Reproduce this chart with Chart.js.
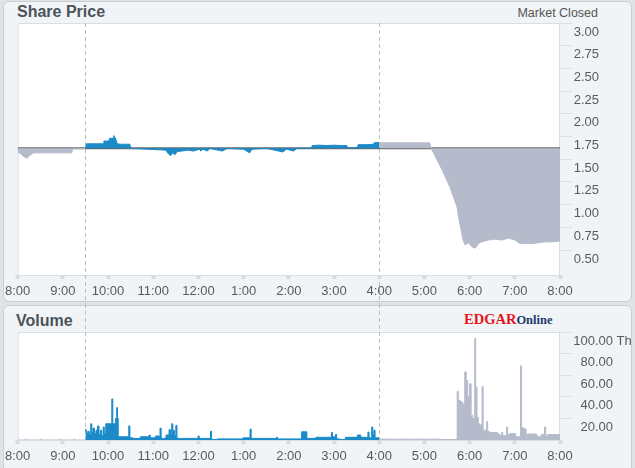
<!DOCTYPE html>
<html><head><meta charset="utf-8">
<script src="https://cdn.jsdelivr.net/npm/chart.js@4.4.0/dist/chart.umd.min.js"></script>
<style>
html,body{margin:0;padding:0;background:#dfe3e7;width:635px;height:468px;overflow:hidden;font-family:"Liberation Sans",Arial,sans-serif;}
.panel{position:absolute;left:3px;width:629px;background:#f1f4f6;border:1px solid #c8cfd5;border-radius:6px;box-sizing:border-box;}
#p1{top:1px;height:301px;}
#p2{top:305px;height:170px;}
.wrap{position:absolute;left:0;width:635px;}
#w1{top:0;height:304px}
#w2{top:304px;height:164px}
.t{position:absolute;white-space:nowrap;}
.title{font-weight:bold;font-size:16px;line-height:16px;color:#4b535b;}
</style></head>
<body>
<div class="panel" id="p1"></div>
<div class="panel" id="p2"></div>
<div class="t title" style="left:17px;top:4px;">Share Price</div>
<div class="t" style="right:37px;top:7px;font-size:12.5px;line-height:13px;color:#555;">Market Closed</div>
<div class="t title" style="left:16px;top:313px;">Volume</div>
<div class="t" style="left:464px;top:311px;font-family:'Liberation Serif',serif;font-weight:bold;line-height:15px;"><span style="color:#e3141c;font-size:14.5px;">EDGAR</span><span style="color:#1e3a6d;font-size:12.5px;">Online</span></div>
<div class="wrap" id="w1"><canvas id="c1"></canvas></div>
<div class="wrap" id="w2"><canvas id="c2"></canvas></div>
<script>
// ---- data ----
const hourTicks = [0,60,120,180,240,300,360,420,480,540,600,660,720];
const hourLabels = ['8:00','9:00','10:00','11:00','12:00','1:00','2:00','3:00','4:00','5:00','6:00','7:00','8:00'];
const priceTicks = [0.5,0.75,1.0,1.25,1.5,1.75,2.0,2.25,2.5,2.75,3.0];
const volumeTicks = [20,40,60,80,100];
const prevClose = 1.62;
const openMinute = 90;   // 9:30
const closeMinute = 480; // 4:00

const preMinutes = [0,4,8,12,16,21,72,73,90];
const prePrices  = [1.58,1.56,1.53,1.51,1.54,1.57,1.57,1.62,1.62];

const regMinutes = [90,91.5,114,114.5,121,122,127,127.7,129,130,132,136.6,149,150,197,200,203,206,209,212,218,226,233,242,243,246,252,255,260,272,278,300,308,311,330,352,357,366,371,390,391,400,410,420,430,437,438,451,452,465,472,473,478,480];
const regPrices  = [1.62,1.67,1.67,1.70,1.70,1.73,1.73,1.76,1.74,1.73,1.67,1.665,1.665,1.62,1.60,1.56,1.54,1.57,1.55,1.585,1.59,1.60,1.59,1.61,1.59,1.61,1.59,1.62,1.61,1.59,1.62,1.61,1.57,1.61,1.62,1.58,1.61,1.59,1.62,1.62,1.65,1.655,1.65,1.655,1.65,1.65,1.625,1.63,1.66,1.66,1.665,1.68,1.685,1.68];

const postMinutes = [480,547,549,563.6,574,583.4,586,588.7,591.4,594,598.4,603,607.3,611.7,616.2,625,633.8,642.7,651.5,660.3,667,673.6,682.5,691.3,700,709,720];
const postPrices  = [1.68,1.68,1.62,1.38,1.19,0.97,0.83,0.72,0.61,0.555,0.58,0.536,0.52,0.57,0.59,0.61,0.62,0.61,0.63,0.61,0.57,0.575,0.57,0.58,0.59,0.59,0.60];

const preVolMinutes = [0,10,11,30,31,55,56,75,76,90];
const preVolumes    = [0,0.6,0,0.6,0,0.6,0,0.6,0,0];

const regVolMinutes = [90,91,93,95,97,98.5,100,102,104,106,108,110,111.5,113.5,115,117,125,126.3,130,131.5,132.5,133.5,139,147.5,149,153,163,174.5,176,183,188,189,190.5,197,201,203,204.5,206,208,210,211.5,239.5,241,256,257.5,265,299,308.5,310,343.5,345,377,384,396,416.5,418,422,423.5,428,435,451,455.5,465,466.5,470,471.5,473,474.5,480];
const regVolumes    = [10,6,8,5,15,7,11,6,9,13,5,9,4,12,6,15,38,15,20,30,20,3,3,13,2,1.5,3,4.6,2,3.7,2,11,1.5,4.6,9.5,5,15,9,4,13.5,1.5,3.7,1.5,8,0.5,1,2,10,1.5,2.5,1,7.6,1.5,2.5,7,3,5,1,0.5,2.5,4.6,2.5,7.3,2,12,5,9,2,2];

const postVolMinutes = [480,500,501,520,521,540,541,560,561,583.5,585,587,589,591,593.5,595.5,597.5,600,602,604,606.8,608,609.8,611.5,613.5,616.5,618,622.5,624,626,637,640,642.3,644,649,650.5,654,661,667.5,669,673,675,677,688.5,690,695,699.5,701,703,720];
const postVolumes    = [0.8,0,0.8,0,0.8,0,0.8,0,0.5,45,37,36,35,33,63,55,40,52,23,20,94,49,21,15,14,49.5,9,17,8,7,5.5,4,7,4,12,5,6,3,68.6,11,10,5,5.5,4.6,3,5,12,3,5,5];

// ---- styling ----
const BLUE = '#1a8bc8';
const GRAY = '#b5bbca';
const FONT = {family: "'Liberation Sans', Arial, sans-serif", size: 13};
const TICKCOLOR = '#5a5a5a';

const pts = (xs, ys) => xs.map((x, i) => ({x, y: ys[i]}));

const frame = {
  id: 'frame',
  beforeDraw(chart, args, opts) {
    const {ctx, chartArea: a} = chart;
    ctx.save();
    ctx.fillStyle = '#ffffff';
    ctx.fillRect(a.left, a.top, a.right - a.left, a.bottom - a.top);
    ctx.strokeStyle = '#d9dee3';
    ctx.lineWidth = 1;
    ctx.strokeRect(a.left + 0.5, a.top + 0.5, a.right - a.left - 1, a.bottom - a.top);
    const xs = chart.scales.x;
    ctx.strokeStyle = '#bdbdbd';
    ctx.setLineDash([4, 3]);
    [openMinute, closeMinute].forEach(m => {
      const px = Math.round(xs.getPixelForValue(m)) + 0.5;
      ctx.beginPath();
      ctx.moveTo(px, opts.top === 'canvas' ? 0 : a.top);
      ctx.lineTo(px, opts.bottom === 'canvas' ? chart.height : a.bottom);
      ctx.stroke();
    });
    ctx.restore();
  }
};

function xAxis(h) {
  return {
    type: 'linear', min: 0, max: 720,
    afterBuildTicks: s => { s.ticks = hourTicks.map(v => ({value: v})); },
    afterFit: s => { s.height = h; },
    grid: {drawOnChartArea: false, drawTicks: true, tickLength: 4, tickWidth: 4, tickColor: '#d6dbe0'},
    border: {display: false},
    ticks: {padding: 5, maxRotation: 0, autoSkip: false, color: TICKCOLOR, font: FONT,
            callback: (v, i) => hourLabels[i]}
  };
}
function yAxis(min, max, list, width, fmt) {
  return {
    position: 'right', min, max,
    afterBuildTicks: s => { s.ticks = list.map(v => ({value: v})); },
    afterFit: s => { s.width = width; },
    grid: {drawOnChartArea: false, drawTicks: true, tickLength: 12, tickColor: '#dde2e7'},
    border: {display: false},
    ticks: {padding: 1, crossAlign: 'far', labelOffset: 9, autoSkip: false, color: TICKCOLOR, font: FONT,
            callback: fmt}
  };
}

const areaDs = (data, color, fill, stepped) => ({
  data, backgroundColor: color, borderColor: color, borderWidth: 1,
  pointRadius: 0, fill, stepped: !!stepped, tension: 0
});

new Chart(document.getElementById('c1'), {
  type: 'line',
  data: {
    datasets: [
      areaDs(pts(preMinutes, prePrices), GRAY, {value: prevClose}),
      areaDs(pts(regMinutes, regPrices), BLUE, {value: prevClose}),
      areaDs(pts(postMinutes, postPrices), GRAY, {value: prevClose}),
      {data: [{x: 0, y: prevClose}, {x: 720, y: prevClose}], borderColor: '#666a6e', borderWidth: 2, pointRadius: 0, fill: false}
    ]
  },
  options: {
    responsive: true, maintainAspectRatio: false, animation: false,
    layout: {padding: {left: 17, top: 23, right: 36, bottom: 0}},
    plugins: {legend: {display: false}, tooltip: {enabled: false}, frame: {top: 'area', bottom: 'canvas'}},
    scales: {
      x: xAxis(29),
      y: yAxis(0.225, 3.0, priceTicks, 39, v => Number(v).toFixed(2))
    }
  },
  plugins: [frame]
});

const unitSuffix = {
  id: 'unitSuffix',
  afterDraw(chart) {
    const s = chart.scales.y, ctx = chart.ctx;
    ctx.save();
    ctx.font = "13px 'Liberation Sans', Arial, sans-serif";
    ctx.fillStyle = TICKCOLOR;
    ctx.textBaseline = 'middle';
    ctx.textAlign = 'left';
    ctx.fillText(' Th', s.right, s.getPixelForValue(100) + 9);
    ctx.restore();
  }
};

new Chart(document.getElementById('c2'), {
  type: 'line',
  data: {
    datasets: [
      areaDs(pts(preVolMinutes, preVolumes), GRAY, 'origin', true),
      areaDs(pts(regVolMinutes, regVolumes), BLUE, 'origin', true),
      areaDs(pts(postVolMinutes, postVolumes), GRAY, 'origin', true)
    ]
  },
  options: {
    responsive: true, maintainAspectRatio: false, animation: false,
    layout: {padding: {left: 17, top: 28, right: 22, bottom: 0}},
    plugins: {legend: {display: false}, tooltip: {enabled: false}, frame: {top: 'canvas', bottom: 'area'}},
    scales: {
      x: xAxis(28),
      y: yAxis(0, 100, volumeTicks, 53, v => Number(v).toFixed(2))
    }
  },
  plugins: [frame, unitSuffix]
});
</script>
</body></html>
